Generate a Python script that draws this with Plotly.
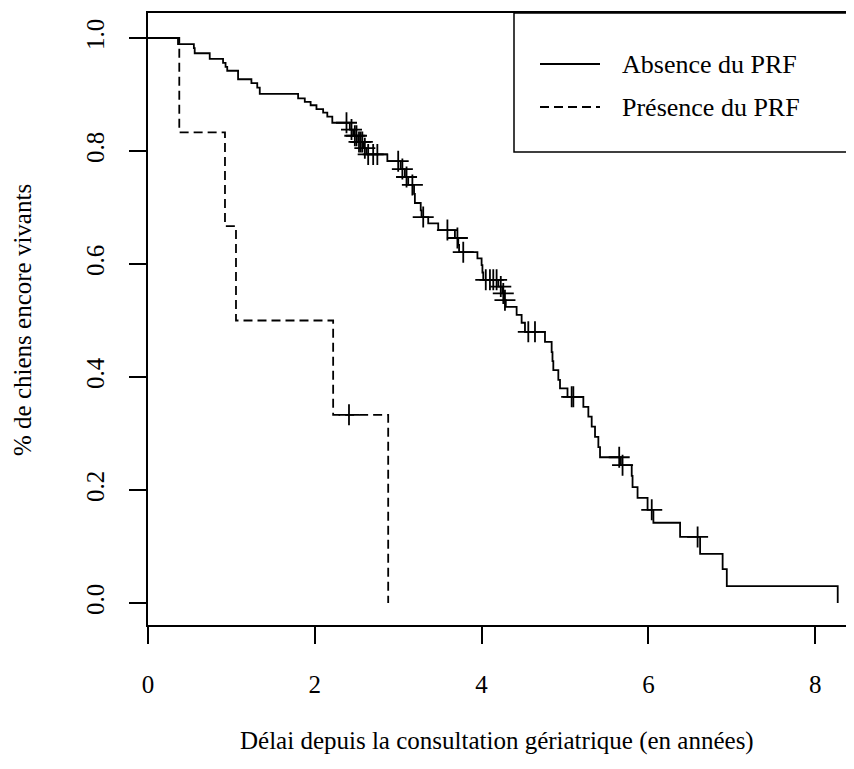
import numpy as np
import plotly.graph_objects as go

# Kaplan-Meier: absence du PRF (solid)
solid_t = [0, 0.36, 0.55, 0.56, 0.74, 0.90, 0.93, 0.95, 1.08, 1.24, 1.31, 1.34,
           1.80, 1.88, 1.95, 2.02, 2.10, 2.15, 2.21, 2.42, 2.46, 2.52, 2.58, 2.62,
           2.87, 3.03, 3.08, 3.12, 3.19, 3.20, 3.27, 3.28, 3.36, 3.48, 3.68, 3.72,
           3.73, 3.95, 4.00, 4.01, 4.02, 4.20, 4.25, 4.27, 4.29, 4.42, 4.48, 4.52,
           4.76, 4.84, 4.85, 4.86, 4.92, 4.94, 5.03, 5.22, 5.28, 5.32, 5.36, 5.40,
           5.42, 5.67, 5.80, 5.81, 5.87, 5.99, 6.06, 6.38, 6.62, 6.89, 6.94, 8.27]
solid_s = [1.0, 0.989, 0.982, 0.973, 0.963, 0.956, 0.949, 0.942, 0.927, 0.920, 0.912, 0.901,
           0.893, 0.887, 0.881, 0.874, 0.868, 0.861, 0.850, 0.838, 0.827, 0.816, 0.805, 0.794,
           0.782, 0.768, 0.754, 0.740, 0.724, 0.708, 0.695, 0.683, 0.672, 0.660, 0.646, 0.634,
           0.621, 0.610, 0.598, 0.585, 0.572, 0.560, 0.548, 0.536, 0.524, 0.510, 0.496, 0.480,
           0.462, 0.444, 0.428, 0.412, 0.395, 0.380, 0.365, 0.347, 0.330, 0.312, 0.294, 0.276,
           0.258, 0.244, 0.225, 0.205, 0.186, 0.165, 0.142, 0.117, 0.087, 0.060, 0.030, 0.0]
solid_cens_t = [2.38, 2.44, 2.48, 2.50, 2.53, 2.55, 2.57, 2.60, 2.64, 2.70, 2.75,
                3.00, 3.05, 3.10, 3.17, 3.30, 3.59, 3.71, 3.78,
                4.05, 4.10, 4.14, 4.18, 4.23, 4.26, 4.28, 4.56, 4.64,
                5.08, 5.10, 5.65, 5.69, 6.04, 6.59]

# Kaplan-Meier: présence du PRF (dashed)
dash_t = [0, 0.375, 0.923, 1.055, 2.22, 2.88]
dash_s = [1.0, 0.833, 0.667, 0.5, 0.333, 0.0]
dash_cens_t = [2.41]

x_ticks = [0, 2, 4, 6, 8]
y_ticks = [0.0, 0.2, 0.4, 0.6, 0.8, 1.0]
legend_labels = ["Absence du PRF", "Présence du PRF"]
x_title = "Délai depuis la consultation gériatrique (en années)"
y_title = "% de chiens encore vivants"


def surv_at(times, ts, ss):
    idx = np.searchsorted(np.array(ts), np.array(times), side="right") - 1
    return list(np.array(ss)[idx])


FONT = "Liberation Serif"
FS = 25
OFF = 8  # default page body margin
W, H = 854 - OFF, 769 - OFF
L, R, T = 148 - OFF, 0, 13 - OFF
B = H - (625 - OFF)
plot_w = W - L - R
plot_h = H - T - B


def px_x(p):
    return (p - OFF - L) / plot_w


def px_y(p):
    return (H - B - (p - OFF)) / plot_h


fig = go.Figure()
fig.add_trace(go.Scatter(x=solid_t, y=solid_s, mode="lines", line=dict(color="black", width=1.8, shape="hv"),
                         name=legend_labels[0], showlegend=False))
fig.add_trace(go.Scatter(x=dash_t, y=dash_s, mode="lines",
                         line=dict(color="black", width=1.8, shape="hv", dash="9px,5px"),
                         name=legend_labels[1], showlegend=False))
fig.add_trace(go.Scatter(x=solid_cens_t, y=surv_at(solid_cens_t, solid_t, solid_s), mode="markers",
                         marker=dict(symbol="cross-thin", size=15, line=dict(color="black", width=1.8)),
                         showlegend=False, hoverinfo="skip"))
fig.add_trace(go.Scatter(x=dash_cens_t, y=surv_at(dash_cens_t, dash_t, dash_s), mode="markers",
                         marker=dict(symbol="cross-thin", size=15, line=dict(color="black", width=1.8)),
                         showlegend=False, hoverinfo="skip"))

# legend box (R-style, top right)
fig.add_shape(type="rect", xref="paper", yref="paper", x0=px_x(514), x1=1.05, y0=px_y(152), y1=px_y(13),
              line=dict(color="black", width=1.5), fillcolor="rgba(0,0,0,0)", layer="above")
legend_rows = [64, 107]
dashes = ["solid", "9px,5px"]
for lab, ry, d in zip(legend_labels, legend_rows, dashes):
    fig.add_shape(type="line", xref="paper", yref="paper", x0=px_x(540), x1=px_x(600), y0=px_y(ry), y1=px_y(ry),
                  line=dict(color="black", width=1.8, dash=d))
    fig.add_annotation(text=lab, xref="paper", yref="paper", x=px_x(620), y=px_y(ry), xanchor="left",
                       yanchor="middle", showarrow=False, font=dict(family=FONT, size=26, color="black"))

fig.add_annotation(text=x_title, xref="paper", yref="paper", x=px_x(497), y=px_y(741), xanchor="center",
                   yanchor="middle", showarrow=False, font=dict(family=FONT, size=FS, color="black"))
fig.add_annotation(text=y_title, xref="paper", yref="paper", x=px_x(22), y=px_y(320), xanchor="center",
                   yanchor="middle", textangle=-90, showarrow=False, font=dict(family=FONT, size=FS, color="black"))

x_max = plot_w / 83.4
y_lo = -(625 - 603) / 565
y_hi = (603 - 13) / 565
fig.update_layout(
    width=W, height=H, margin=dict(l=L, r=R, t=T, b=B),
    paper_bgcolor="white", plot_bgcolor="white",
    font=dict(family=FONT, size=FS, color="black"),
    xaxis=dict(range=[0, x_max], tickvals=x_ticks, ticks="outside", ticklen=17, tickwidth=1.5,
               tickcolor="black", showline=True, linecolor="black", linewidth=1.5, mirror=True,
               showgrid=False, zeroline=False, ticklabelstandoff=19),
    yaxis=dict(range=[y_lo, y_hi], tickvals=y_ticks, tickformat=".1f",
               ticks="outside", ticklen=17, tickwidth=1.5, tickcolor="black", tickangle=-90,
               showline=True, linecolor="black", linewidth=1.5, showgrid=False, zeroline=False,
               ticklabelstandoff=15),
)
fig.write_html("out.html")
